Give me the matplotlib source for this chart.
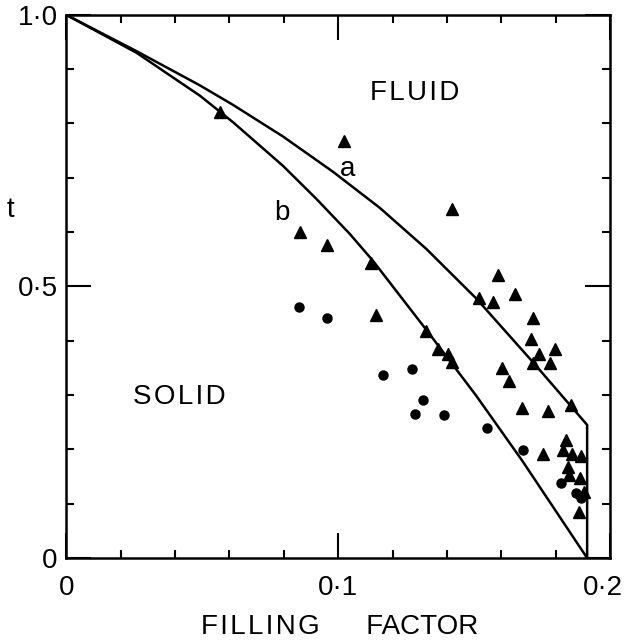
import matplotlib.pyplot as plt
from matplotlib.ticker import MultipleLocator, FixedLocator
from matplotlib.transforms import ScaledTranslation

# curve a (upper), ends with vertical drop
curve_a_x = [0.0, 0.0259, 0.0492, 0.0614, 0.0797, 0.0981, 0.1152, 0.1324,
             0.1507, 0.1715, 0.1915, 0.1915]
curve_a_y = [1.0, 0.933, 0.870, 0.834, 0.776, 0.711, 0.645, 0.569,
             0.478, 0.361, 0.245, 0.0]

# curve b (lower)
curve_b_x = [0.0, 0.0259, 0.0492, 0.0614, 0.0797, 0.0920, 0.1042, 0.1128,
             0.1324, 0.1507, 0.1678, 0.1915]
curve_b_y = [1.0, 0.930, 0.851, 0.802, 0.722, 0.661, 0.597, 0.547,
             0.420, 0.299, 0.178, 0.0]

# triangles
tri_x = [0.0565, 0.1021, 0.1418, 0.0859, 0.0960, 0.1122, 0.1587, 0.1516, 0.1568, 0.1651,
         0.1140, 0.1715, 0.1321, 0.1709, 0.1366, 0.1403, 0.1419, 0.1798, 0.1737, 0.1602,
         0.1715, 0.1778, 0.1629, 0.1856, 0.1675, 0.1770, 0.1837, 0.1826, 0.1754, 0.1859,
         0.1892, 0.1843, 0.1847, 0.1889, 0.1905, 0.1886]
tri_y = [0.822, 0.768, 0.642, 0.601, 0.576, 0.544, 0.521, 0.478, 0.472, 0.486,
         0.447, 0.441, 0.418, 0.403, 0.385, 0.375, 0.360, 0.385, 0.376, 0.349,
         0.359, 0.359, 0.325, 0.282, 0.276, 0.271, 0.217, 0.199, 0.192, 0.192,
         0.188, 0.167, 0.153, 0.147, 0.122, 0.085]

# circles
circ_x = [0.0856, 0.0960, 0.1165, 0.1271, 0.1311, 0.1283, 0.1390, 0.1546, 0.1678, 0.1819,
          0.1874, 0.1892]
circ_y = [0.463, 0.441, 0.337, 0.348, 0.291, 0.265, 0.263, 0.240, 0.199, 0.138,
          0.119, 0.110]

plt.rcParams['font.family'] = ['Liberation Sans', 'DejaVu Sans']

HS = '\u200a'  # hair space for the spaced-out lettering


def spaced(word):
    return HS.join(word)


fig = plt.figure(figsize=(6.24, 6.44), dpi=100)
ax = fig.add_axes([0.106, 0.1335, 0.872, 0.8435])

ax.plot(curve_a_x, curve_a_y, color='black', lw=1.8, solid_joinstyle='round')
ax.plot(curve_b_x, curve_b_y, color='black', lw=1.8, solid_joinstyle='round')
ax.plot(tri_x, tri_y, ls='none', marker='^', color='black', ms=9)
ax.plot(circ_x, circ_y, ls='none', marker='o', color='black', ms=6.5)

ax.set_xlim(0, 0.2)
ax.set_ylim(0, 1.0)

ax.xaxis.set_major_locator(FixedLocator([0, 0.1, 0.2]))
ax.yaxis.set_major_locator(FixedLocator([0, 0.5, 1.0]))
ax.xaxis.set_minor_locator(MultipleLocator(0.02))
ax.yaxis.set_minor_locator(MultipleLocator(0.1))
ax.set_xticklabels(['0', '0\u00b71', '0\u00b72'])
ax.set_yticklabels(['0', '0\u00b75', '1\u00b70'])

ax.tick_params(which='both', direction='in', top=True, right=True, width=1.5,
               labelsize=20)
ax.tick_params(which='major', length=18, pad=6)
ax.tick_params(axis='x', which='major', pad=12)
ax.tick_params(which='minor', length=6)
for s in ax.spines.values():
    s.set_linewidth(1.8)

# last x label sits right at the figure edge, nudge it in
last = ax.xaxis.get_major_ticks()[-1].label1
last.set_transform(last.get_transform() + ScaledTranslation(-5 / 72, 0, fig.dpi_scale_trans))

ax.set_xlabel(spaced('FILLING') + '      ' + 'FACTOR', fontsize=20)
ax.xaxis.set_label_coords(0.502, -0.103)
ax.set_ylabel('t', rotation=0, fontsize=20, va='center')
ax.yaxis.set_label_coords(-0.103, 0.641)

ax.text(0.128, 0.856, spaced('FLUID'), fontsize=20, ha='center', va='center')
ax.text(0.0415, 0.296, spaced('SOLID'), fontsize=20, ha='center', va='center')
ax.text(0.1035, 0.716, 'a', fontsize=20, ha='center', va='center')
ax.text(0.0793, 0.635, 'b', fontsize=20, ha='center', va='center')

fig.savefig('out.png', dpi=100)
